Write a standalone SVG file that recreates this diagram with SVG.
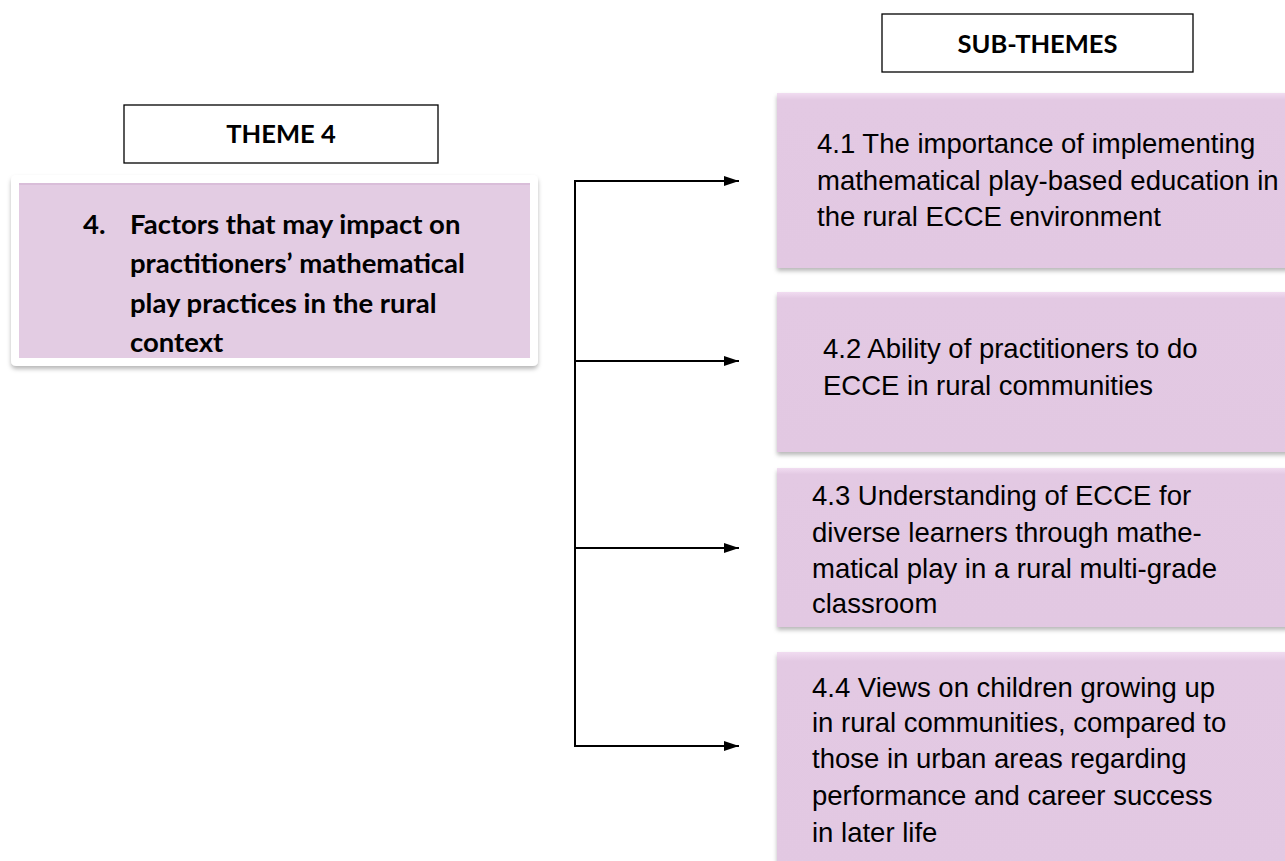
<svg xmlns="http://www.w3.org/2000/svg" width="1285" height="861" viewBox="0 0 1285 861">
  <style>
    .hdr { fill: #ffffff; stroke: #000000; stroke-width: 1.3; }
    .hdr-text { font-family: Lato, "Liberation Sans", sans-serif; font-weight: 700; font-size: 25.5px; fill: #000000; text-anchor: middle; }
    .theme-text { font-family: Lato, "Liberation Sans", sans-serif; font-weight: 700; font-size: 27.5px; fill: #000000; }
    .sub { fill: url(#subFill); }
    .sub-text { font-family: "Liberation Sans", Arial, sans-serif; font-size: 27.5px; fill: #000000; }
    .conn { fill: none; stroke: #000000; stroke-width: 2; }
  </style>
  <defs>
    <linearGradient id="subFill" x1="0" y1="0" x2="0" y2="1">
      <stop offset="0" stop-color="#f1dcf1"/>
      <stop offset="0.04" stop-color="#e3c9e3"/>
      <stop offset="1" stop-color="#e2c8e2"/>
    </linearGradient>
    <filter id="shadow" x="-5%" y="-5%" width="110%" height="115%">
      <feDropShadow dx="0" dy="3" stdDeviation="2.2" flood-color="#000000" flood-opacity="0.28"/>
    </filter>
    <marker id="arrow" viewBox="0 0 15 10" refX="15" refY="5" markerWidth="15" markerHeight="10" markerUnits="userSpaceOnUse" orient="auto">
      <path d="M0,0 L15,5 L0,10 Z" fill="#000000"/>
    </marker>
  </defs>

  <rect x="0" y="0" width="1285" height="861" fill="#ffffff"/>

  <!-- column headings -->
  <g id="theme-heading">
    <rect class="hdr" x="124" y="105" width="314" height="58"/>
    <text class="hdr-text" x="281" y="143">THEME 4</text>
  </g>
  <g id="subthemes-heading">
    <rect class="hdr" x="882" y="14" width="311" height="58"/>
    <text class="hdr-text" x="1037.5" y="53">SUB-THEMES</text>
  </g>

  <!-- main theme -->
  <g id="theme-4">
    <rect x="11" y="175" width="527" height="191" rx="5" fill="#ffffff" filter="url(#shadow)"/>
    <rect x="19" y="183" width="511" height="175" fill="#e3cce3"/>
    <rect x="19" y="183" width="511" height="2" fill="#d9bdd9"/>
    <text class="theme-text" x="83" y="234">4.</text>
    <text class="theme-text" x="130" y="234">Factors that may impact on</text>
    <text class="theme-text" x="130" y="273">practitioners’ mathematical</text>
    <text class="theme-text" x="130" y="313">play practices in the rural</text>
    <text class="theme-text" x="130" y="352">context</text>
  </g>

  <!-- sub-themes -->
  <g id="sub-4-1">
    <rect class="sub" x="777" y="93" width="520" height="175" filter="url(#shadow)"/>
    <text class="sub-text" x="817" y="153">4.1 The importance of implementing</text>
    <text class="sub-text" x="817" y="190">mathematical play-based education in</text>
    <text class="sub-text" x="817" y="226">the rural ECCE environment</text>
  </g>
  <g id="sub-4-2">
    <rect class="sub" x="777" y="292" width="520" height="160" filter="url(#shadow)"/>
    <text class="sub-text" x="823" y="358">4.2 Ability of practitioners to do</text>
    <text class="sub-text" x="823" y="395">ECCE in rural communities</text>
  </g>
  <g id="sub-4-3">
    <rect class="sub" x="777" y="468" width="520" height="159" filter="url(#shadow)"/>
    <text class="sub-text" x="812" y="505">4.3 Understanding of ECCE for</text>
    <text class="sub-text" x="812" y="542">diverse learners through mathe-</text>
    <text class="sub-text" x="812" y="578">matical play in a rural multi-grade</text>
    <text class="sub-text" x="812" y="613">classroom</text>
  </g>
  <g id="sub-4-4">
    <rect class="sub" x="777" y="652" width="520" height="230" filter="url(#shadow)"/>
    <text class="sub-text" x="812" y="697">4.4 Views on children growing up</text>
    <text class="sub-text" x="812" y="732">in rural communities, compared to</text>
    <text class="sub-text" x="812" y="768">those in urban areas regarding</text>
    <text class="sub-text" x="812" y="805">performance and career success</text>
    <text class="sub-text" x="812" y="842">in later life</text>
  </g>

  <!-- connectors: one trunk feeding four branches -->
  <g id="connectors">
    <line class="conn" x1="575" y1="180" x2="575" y2="747"/>
    <line class="conn" x1="574" y1="181" x2="739" y2="181" marker-end="url(#arrow)"/>
    <line class="conn" x1="575" y1="361" x2="739" y2="361" marker-end="url(#arrow)"/>
    <line class="conn" x1="575" y1="548" x2="739" y2="548" marker-end="url(#arrow)"/>
    <line class="conn" x1="574" y1="746" x2="739" y2="746" marker-end="url(#arrow)"/>
  </g>
</svg>
